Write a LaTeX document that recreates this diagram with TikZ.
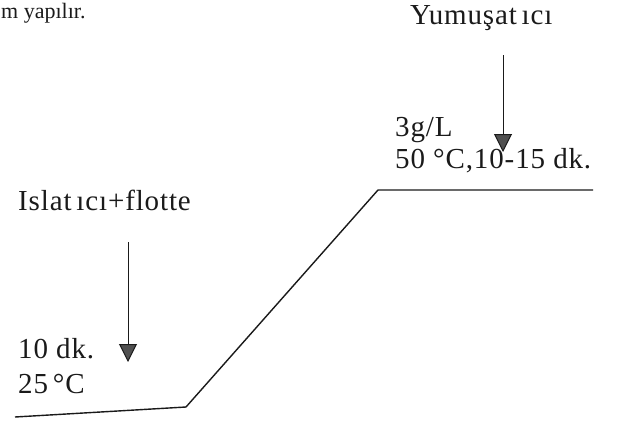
\documentclass[tikz,border=0pt]{standalone}
\usepackage{fontspec}
\setmainfont{Liberation Serif}
\usetikzlibrary{arrows.meta}
\definecolor{curveline}{HTML}{1a1a1a}
\definecolor{tipfill}{HTML}{505050}

\begin{document}
\begin{tikzpicture}[x=1pt, y=-1pt,
    lbl/.style={anchor=base west, inner sep=0pt, text=curveline,
      font=\fontsize{29}{34}\selectfont\addfontfeature{LetterSpace=3}},
    small/.style={anchor=base west, inner sep=0pt, text=curveline,
      font=\fontsize{22}{26}\selectfont},
    prof/.style={line width=1.4pt, curveline},
    feed/.style={-{Triangle[length=18pt, width=18pt, fill=tipfill]},
      line width=1pt, curveline}]
\useasboundingbox (0,0) rectangle (627,421);

% --- header remnant ---
\node[small] (head) at (1,18) {m yapılır.};

% --- process profile ---
\coordinate (p0) at (15,417);
\coordinate (p1) at (186,407);
\coordinate (p2) at (378,190);
\coordinate (p3) at (593,190);
\draw[prof] (p0) -- (p1) -- (p2) -- (p3);

% --- first step: wetting ---
\node[lbl] (wet) at (18,210) {Islat\,ıcı+flotte};
\node[lbl] (wtime) at (18,358) {10 dk.};
\node[lbl] (wtemp) at (18,393) {25\,°C};
\coordinate (wetS) at (128,242);
\coordinate (wetE) at (128,362);
\draw[feed] (wetS) -- (wetE);

% --- second step: softener ---
\node[lbl] (soft) at (410,24) {Yumuşat\,ıcı};
\node[lbl] (sdose) at (395,136) {3g/L};
\node[lbl] (stemp) at (395,168) {50 °C,10-15 dk.};
\coordinate (softS) at (503,55);
\coordinate (softE) at (503,152);
\draw[feed] (softS) -- (softE);
\end{tikzpicture}
\end{document}
